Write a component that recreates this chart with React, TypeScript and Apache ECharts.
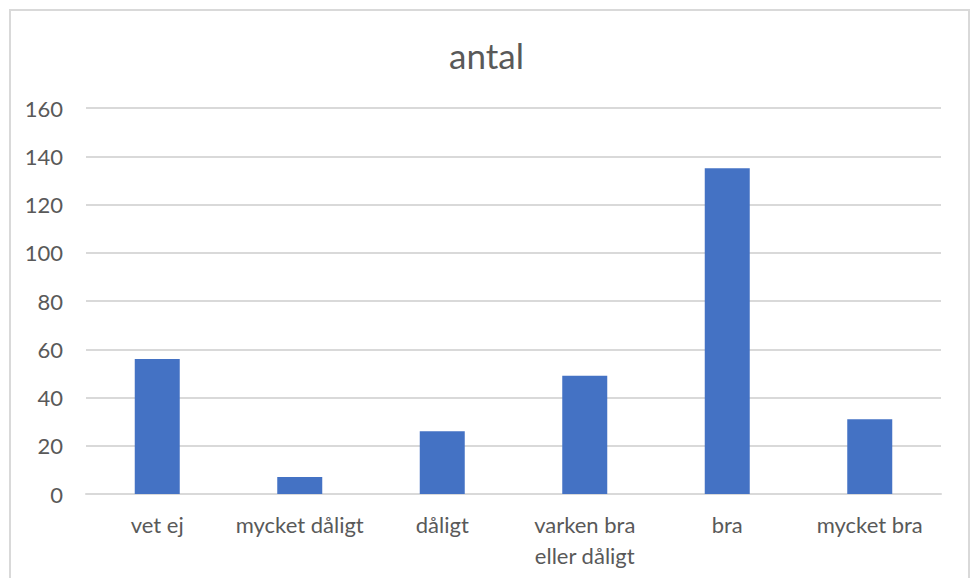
import React, { useEffect, useRef } from "react";
import * as echarts from "echarts";

const categories = ["vet ej", "mycket dåligt", "dåligt", "varken bra\neller dåligt", "bra", "mycket bra"];
const values = [56, 7, 26, 49, 135, 31];
const titleText = "antal";

export default function App() {
  const ref = useRef<HTMLDivElement>(null);
  useEffect(() => {
    const chart = echarts.init(ref.current!, undefined, { renderer: "svg" });
    chart.setOption({
      animation: false,
      backgroundColor: "#ffffff",
      textStyle: { fontFamily: "Lato, 'Open Sans', sans-serif" },
      title: {
        text: titleText,
        left: "center",
        top: 32,
        textStyle: { fontSize: 35, fontWeight: "normal", color: "#595959", fontFamily: "Lato, sans-serif" },
      },
      graphic: [
        {
          type: "rect",
          shape: { x: 10, y: 10, width: 959, height: 620 },
          style: { fill: "none", stroke: "#d9d9d9", lineWidth: 2 },
          silent: true,
        },
      ],
      grid: { left: 86, right: 32, top: 108, bottom: 84 },
      xAxis: {
        type: "category",
        data: categories,
        axisLine: { lineStyle: { color: "#d9d9d9", width: 2 } },
        axisTick: { show: false },
        axisLabel: { color: "#595959", fontSize: 22, margin: 15, lineHeight: 31, interval: 0 },
      },
      yAxis: {
        type: "value",
        min: 0,
        max: 160,
        interval: 20,
        axisLine: { show: false },
        axisTick: { show: false },
        splitLine: { lineStyle: { color: "#d9d9d9", width: 2 } },
        axisLabel: { color: "#595959", fontSize: 22, margin: 23 },
      },
      series: [
        {
          type: "bar",
          data: values,
          barWidth: 45,
          itemStyle: { color: "#4472c4" },
        },
      ],
    });
    return () => chart.dispose();
  }, []);
  return (
    <div style={{ position: "fixed", left: 0, top: 0, width: 973, height: 578, background: "#fff" }}>
      <div ref={ref} style={{ width: 973, height: 578 }} />
    </div>
  );
}
